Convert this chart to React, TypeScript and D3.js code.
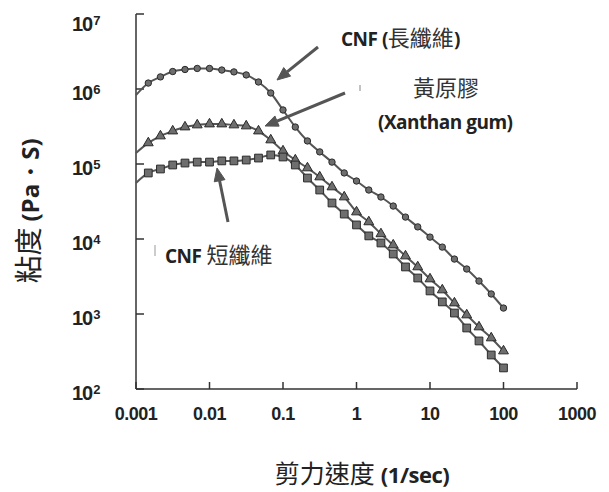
import React from 'react';
import * as d3 from 'd3';

const width = 609;
const height = 492;

// shear rate (1/sec), 6 points per decade
const shearRates = [
  0.001, 0.00147, 0.00215, 0.00316, 0.00464, 0.00681,
  0.01, 0.0147, 0.0215, 0.0316, 0.0464, 0.0681,
  0.1, 0.147, 0.215, 0.316, 0.464, 0.681,
  1, 1.47, 2.15, 3.16, 4.64, 6.81,
  10, 14.7, 21.5, 31.6, 46.4, 68.1, 100,
];

// viscosity (Pa·S)
const cnfLong = [
  8.3e5, 1.2e6, 1.45e6, 1.71e6, 1.82e6, 1.88e6,
  1.88e6, 1.79e6, 1.69e6, 1.54e6, 1.24e6, 8.85e5,
  5.25e5, 3.11e5, 2.03e5, 1.45e5, 1.06e5, 7.6e4,
  5.93e4, 4.5e4, 3.63e4, 2.75e4, 1.96e4, 1.45e4,
  1.06e4, 7.8e3, 5.4e3, 3.98e3, 2.75e3, 1.85e3, 1.2e3,
];
const xanthan = [
  1.4e5, 1.91e5, 2.36e5, 2.75e5, 3.11e5, 3.31e5,
  3.41e5, 3.41e5, 3.31e5, 3.21e5, 2.75e5, 2.09e5,
  1.49e5, 1.13e5, 8.85e4, 6.71e4, 4.94e4, 3.63e4,
  2.29e4, 1.69e4, 1.17e4, 8.3e3, 5.93e3, 4.24e3,
  2.93e3, 2.09e3, 1.4e3, 970, 671, 479, 321,
];
const cnfShort = [
  5.58e4, 7.59e4, 8.58e4, 9.7e4, 1.03e5, 1.06e5,
  1.06e5, 1.1e5, 1.1e5, 1.13e5, 1.2e5, 1.32e5,
  1.24e5, 9.7e4, 6.5e4, 4.5e4, 3.02e4, 2.15e4,
  1.54e4, 1.1e4, 8.85e3, 6.31e3, 4.24e3, 3.02e3,
  2.03e3, 1.45e3, 1.03e3, 651, 437, 284, 191,
];

const xTicks = [0.001, 0.01, 0.1, 1, 10, 100, 1000];
const xTickLabels = ['0.001', '0.01', '0.1', '1', '10', '100', '1000'];
const yTicks = [1e2, 1e3, 1e4, 1e5, 1e6, 1e7];
const yTickExponents = ['2', '3', '4', '5', '6', '7'];

const latin = '"Open Sans", "Liberation Sans", sans-serif';
const cjk = '"Noto Sans CJK TC", "Noto Sans CJK SC", sans-serif';
const num = '"Liberation Sans", Arial, sans-serif';

const x = d3.scaleLog().domain([0.001, 1000]).range([136, 577]);
const y = d3.scaleLog().domain([100, 1e7]).range([389, 14]);

const lineGen = d3
  .line<[number, number]>()
  .x((d) => x(d[0]))
  .y((d) => y(d[1]))
  .curve(d3.curveMonotoneX);

const series = [
  { key: 'long', values: cnfLong, marker: 'circle' },
  { key: 'xanthan', values: xanthan, marker: 'triangle' },
  { key: 'short', values: cnfShort, marker: 'square' },
];

const triPath = d3.symbol().type(d3.symbolTriangle).size(42)() as string;
const sqPath = d3.symbol().type(d3.symbolSquare).size(60)() as string;

const Marker = ({ type, cx, cy }: { type: string; cx: number; cy: number }) => {
  const style = { fill: '#6e6e6e', stroke: '#2b2b2b', strokeWidth: 1 };
  if (type === 'circle') return <circle cx={cx} cy={cy} r={3.2} {...style} />;
  const d = type === 'triangle' ? triPath : sqPath;
  return <path d={d} transform={`translate(${cx},${cy})`} {...style} />;
};

const Arrow = ({ x1, y1, x2, y2 }: { x1: number; y1: number; x2: number; y2: number }) => {
  const ang = Math.atan2(y2 - y1, x2 - x1);
  const len = 13;
  const half = 5.5;
  const bx = x2 - len * Math.cos(ang);
  const by = y2 - len * Math.sin(ang);
  const px = -Math.sin(ang) * half;
  const py = Math.cos(ang) * half;
  return (
    <g fill="#555" stroke="#555">
      <line x1={x1} y1={y1} x2={bx} y2={by} strokeWidth={3} />
      <path d={`M${x2},${y2}L${bx + px},${by + py}L${bx - px},${by - py}Z`} strokeWidth={1} />
    </g>
  );
};

const App = () => {
  return (
    <svg
      width={width}
      height={height}
      style={{ position: 'absolute', left: 0, top: 0, background: '#fff' }}
    >
      {/* axes */}
      <g stroke="#333" strokeWidth={1.5} fill="none">
        <line x1={x(0.001)} x2={x(0.001)} y1={y(1e7)} y2={y(100)} />
        <line x1={x(0.001)} x2={x(1000)} y1={y(100)} y2={y(100)} />
        {yTicks.map((t) => (
          <line key={t} x1={x(0.001)} x2={x(0.001) + 8} y1={y(t)} y2={y(t)} />
        ))}
        {xTicks.map((t) => (
          <line key={t} x1={x(t)} x2={x(t)} y1={y(100)} y2={y(100) - 7} />
        ))}
      </g>
      {yTicks.map((t, i) => (
        <text
          key={t}
          x={72}
          y={y(t) + (i === yTicks.length - 1 ? 17 : 11)}
          fontFamily={num}
          fontWeight="bold"
          fontSize={20}
          fill="#222"
          letterSpacing={-1}
        >
          10
          <tspan fontSize={13} dy={-6} dx={1}>
            {yTickExponents[i]}
          </tspan>
        </text>
      ))}
      {xTicks.map((t, i) => (
        <text
          key={t}
          x={x(t)}
          y={420}
          textAnchor="middle"
          fontFamily={num}
          fontWeight="bold"
          fontSize={18}
          fill="#222"
          letterSpacing={-0.5}
        >
          {xTickLabels[i]}
        </text>
      ))}

      {/* axis titles */}
      <text x={362} y={483} textAnchor="middle" fill="#222">
        <tspan fontFamily={cjk} fontSize={25}>剪力速度</tspan>
        <tspan fontFamily={latin} fontWeight="bold" fontSize={22} dx={6} letterSpacing={-0.5}>
          (1/sec)
        </tspan>
      </text>
      <text transform="translate(39,211) rotate(-90)" textAnchor="middle" fill="#222">
        <tspan fontFamily={cjk} fontSize={28}>粘度</tspan>
        <tspan fontFamily={latin} fontWeight="bold" fontSize={24} dx={6}>
          (Pa・S)
        </tspan>
      </text>

      {/* curves */}
      {series.map((s) => {
        const pts = shearRates.map((r, i) => [r, s.values[i]] as [number, number]);
        return (
          <g key={s.key}>
            <path d={lineGen(pts) as string} fill="none" stroke="#555" strokeWidth={2} />
            {pts.slice(1).map((p, i) => (
              <Marker key={i} type={s.marker} cx={x(p[0])} cy={y(p[1])} />
            ))}
          </g>
        );
      })}

      {/* annotations */}
      <Arrow x1={318} y1={47} x2={277} y2={80} />
      <Arrow x1={345} y1={93} x2={265} y2={126} />
      <Arrow x1={228} y1={222} x2={217} y2={168} />
      <line x1={360} y1={85} x2={360} y2={91} stroke="#999" strokeWidth={1.2} />
      <line x1={155} y1={245} x2={155} y2={256} stroke="#aaa" strokeWidth={1.2} />

      <text x={341} y={46} fill="#222">
        <tspan fontFamily={latin} fontWeight="bold" fontSize={19} letterSpacing={-0.5}>CNF (</tspan>
        <tspan fontFamily={cjk} fontSize={22} fill="#333">長纖維</tspan>
        <tspan fontFamily={latin} fontWeight="bold" fontSize={19}>)</tspan>
      </text>
      <text x={413} y={96} fontFamily={cjk} fontSize={22} fill="#333">
        黃原膠
      </text>
      <text
        x={378}
        y={129}
        fontFamily={latin}
        fontWeight="bold"
        fontSize={19}
        letterSpacing={-0.5}
        fill="#222"
      >
        (Xanthan gum)
      </text>
      <text x={165} y={263} fill="#222">
        <tspan fontFamily={latin} fontWeight="bold" fontSize={19} letterSpacing={-0.5}>CNF</tspan>
        <tspan fontFamily={cjk} fontSize={22} dx={5} fill="#333">短纖維</tspan>
      </text>
    </svg>
  );
};

export default App;
